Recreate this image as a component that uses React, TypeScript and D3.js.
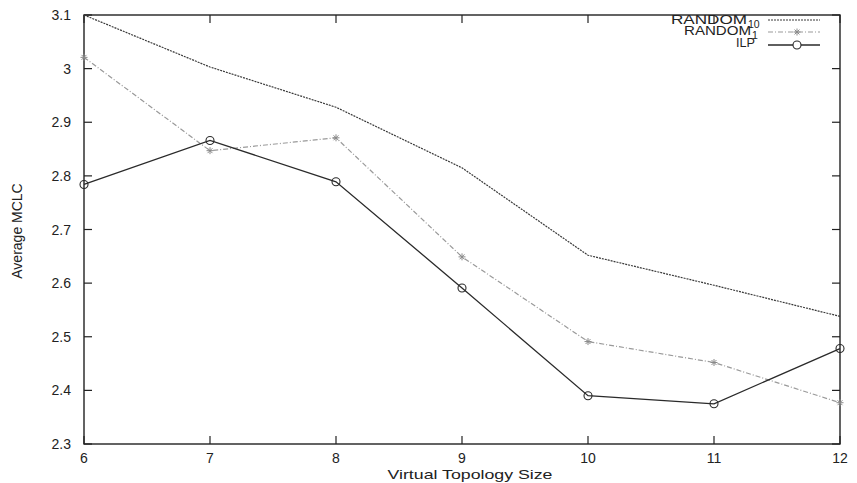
import React from "react";
import * as d3 from "d3";

const sizes = [6, 7, 8, 9, 10, 11, 12];
const random10 = [3.1, 3.003, 2.928, 2.815, 2.652, 2.596, 2.538];
const random1 = [3.021, 2.847, 2.871, 2.649, 2.491, 2.452, 2.377];
const ilp = [2.784, 2.866, 2.789, 2.591, 2.39, 2.375, 2.478];
const yTicks = [2.3, 2.4, 2.5, 2.6, 2.7, 2.8, 2.9, 3, 3.1];

const W = 857;
const H = 483;
const left = 84;
const right = 840;
const top = 15;
const bottom = 444;

export default function App() {
  const x = d3.scaleLinear().domain([6, 12]).range([left, right]);
  const y = d3.scaleLinear().domain([2.3, 3.1]).range([bottom, top]);
  const line = d3
    .line<number>()
    .x((_, i) => x(sizes[i]))
    .y((d) => y(d));

  const font = "Liberation Sans, Arial, sans-serif";
  const tl = 8;

  const star = (cx: number, cy: number, key: string) => {
    const r = 3.5;
    return (
      <g key={key} stroke="#8a8a8a" strokeWidth={1}>
        <line x1={cx - r} y1={cy} x2={cx + r} y2={cy} />
        <line x1={cx} y1={cy - r} x2={cx} y2={cy + r} />
        <line x1={cx - r * 0.7} y1={cy - r * 0.7} x2={cx + r * 0.7} y2={cy + r * 0.7} />
        <line x1={cx - r * 0.7} y1={cy + r * 0.7} x2={cx + r * 0.7} y2={cy - r * 0.7} />
      </g>
    );
  };

  return (
    <svg width={W} height={H} style={{ position: "absolute", left: 0, top: 0, background: "#fff" }}>
      <rect x={0} y={0} width={W} height={H} fill="#fff" />
      {/* frame */}
      <rect x={left} y={top} width={right - left} height={bottom - top} fill="none" stroke="#222" strokeWidth={1.4} />
      {/* y ticks */}
      {yTicks.map((t) => (
        <g key={"y" + t}>
          <line x1={left} x2={left + tl} y1={y(t)} y2={y(t)} stroke="#222" strokeWidth={1.2} />
          <line x1={right} x2={right - tl} y1={y(t)} y2={y(t)} stroke="#222" strokeWidth={1.2} />
          <text x={71} y={y(t) + 5} textAnchor="end" fontFamily={font} fontSize={14} fill="#222">
            {d3.format("")(t)}
          </text>
        </g>
      ))}
      {/* x ticks */}
      {sizes.map((s) => (
        <g key={"x" + s}>
          <line x1={x(s)} x2={x(s)} y1={bottom} y2={bottom - tl} stroke="#222" strokeWidth={1.2} />
          <line x1={x(s)} x2={x(s)} y1={top} y2={top + tl} stroke="#222" strokeWidth={1.2} />
          <text x={x(s)} y={463} textAnchor="middle" fontFamily={font} fontSize={14} fill="#222">
            {s}
          </text>
        </g>
      ))}
      <text
        x={470}
        y={479}
        textAnchor="middle"
        fontFamily={font}
        fontSize={13}
        fill="#222"
        textLength={165}
        lengthAdjust="spacingAndGlyphs"
      >
        Virtual Topology Size
      </text>
      <text
        transform="translate(22,231) rotate(-90)"
        textAnchor="middle"
        fontFamily={font}
        fontSize={14}
        fill="#222"
      >
        Average MCLC
      </text>

      {/* series */}
      <path d={line(random10) || ""} fill="none" stroke="#3a3a3a" strokeWidth={1.2} strokeDasharray="2,1" />
      <path d={line(random1) || ""} fill="none" stroke="#9a9a9a" strokeWidth={1.2} strokeDasharray="5,2,1,2" />
      <path d={line(ilp) || ""} fill="none" stroke="#2a2a2a" strokeWidth={1.3} />
      {random1.map((v, i) => star(x(sizes[i]), y(v), "s" + i))}
      {ilp.map((v, i) => (
        <circle key={"c" + i} cx={x(sizes[i])} cy={y(v)} r={4} fill="none" stroke="#2a2a2a" strokeWidth={1.1} />
      ))}

      {/* legend */}
      <g fontFamily={font} fontSize={13.5} fill="#222">
        <text x={747} y={24} textAnchor="end" textLength={76} lengthAdjust="spacingAndGlyphs">RANDOM</text>
        <text x={748} y={28} fontSize={10.5}>10</text>
        <text x={751} y={35} textAnchor="end" textLength={67} lengthAdjust="spacingAndGlyphs">RANDOM</text>
        <text x={752} y={39} fontSize={10.5}>1</text>
        <text x={755} y={47} textAnchor="end" textLength={19} lengthAdjust="spacingAndGlyphs">ILP</text>
      </g>
      <line x1={768} x2={820} y1={20} y2={20} stroke="#3a3a3a" strokeWidth={1.2} strokeDasharray="2,1" />
      <line x1={768} x2={820} y1={32} y2={32} stroke="#9a9a9a" strokeWidth={1.2} strokeDasharray="5,2,1,2" />
      {star(797, 32, "ls")}
      <line x1={768} x2={820} y1={45} y2={45} stroke="#2a2a2a" strokeWidth={1.3} />
      <circle cx={797} cy={45} r={4} fill="#fff" stroke="#2a2a2a" strokeWidth={1.1} />
    </svg>
  );
}
